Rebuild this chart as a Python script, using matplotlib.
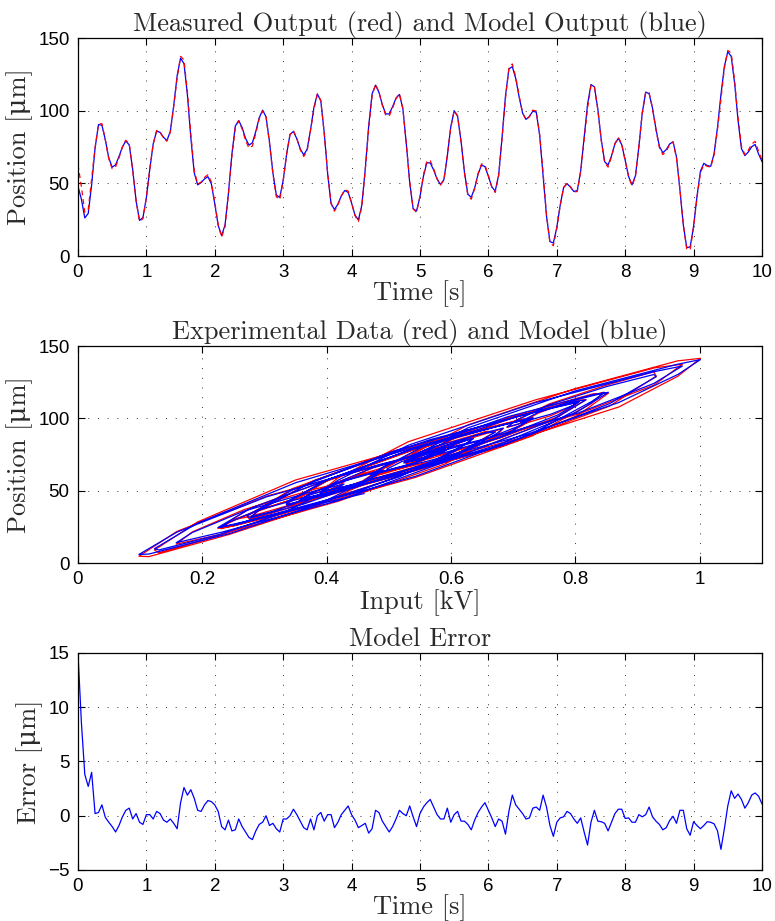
import matplotlib
matplotlib.use("Agg")
import matplotlib.pyplot as plt
import numpy as np

# time grid of the recording [s], 0.05 s steps
time_s = np.arange(201) * 0.05

# model output (blue) [um]
model_um = [
    48, 39.1, 26.2, 29.3, 49, 74.2, 90.4, 90.1, 80, 67.6,
    61.1, 62.8, 68.5, 75.1, 79.2, 76.4, 59.6, 37.9, 24.5, 26.5,
    40.1, 59.7, 77.3, 86, 85.1, 81.7, 79.6, 85.6, 103.6, 124.1,
    136.2, 132.3, 110.9, 81.4, 57.2, 49, 50.5, 53.1, 54.6, 49.7,
    35.9, 21.1, 14, 21.4, 43.3, 70, 89.4, 93.3, 88.4, 81,
    76.3, 77.9, 85.8, 95.2, 100.4, 95.7, 78.5, 57.2, 42, 40.3,
    52, 70, 83.7, 85.7, 80.7, 73.7, 69.6, 73.4, 86.8, 102.4,
    111.5, 106.8, 85.1, 56.9, 36.1, 32, 35.7, 41.3, 45.1, 43.8,
    36.5, 28.2, 24.8, 35, 59.8, 89.4, 111.6, 117.6, 112.7, 104.1,
    97.8, 97.8, 102.8, 108.7, 111.2, 101.3, 77.4, 50.5, 32.6, 31,
    40.8, 54.8, 64.1, 64.1, 59.2, 53, 49.2, 52.6, 68.9, 88.8,
    100, 96.1, 79.2, 57.8, 42.5, 40.4, 46.9, 56.5, 62.6, 61.5,
    54.9, 47.6, 44.7, 55.7, 81.5, 110.2, 128.8, 130.3, 122.1, 109.4,
    98.4, 94, 96.1, 99.7, 99, 83, 55.5, 27.5, 9.9, 9,
    19.6, 35, 47.2, 49.8, 47.4, 44.4, 45.1, 58.6, 81.6, 104.5,
    118, 116.4, 101.1, 80.1, 64.9, 62.6, 68.9, 77.2, 81, 76.6,
    65.9, 54.7, 49, 55.2, 75.2, 98.6, 112.8, 111.7, 101.6, 87.4,
    75.5, 71.1, 73.2, 77.1, 78.6, 68.2, 45.7, 21.3, 5.9, 6.2,
    20.4, 41.1, 58.4, 63.8, 62.3, 61.7, 70.4, 88.7, 111, 130.4,
    140.6, 137.4, 118.9, 93.4, 73.9, 69.1, 71.6, 75.2, 76.8, 70.2,
    65,
]

# model error [um]
error_um = [
    15, 8.6, 3.8, 2.7, 4.0, 0.2, 0.3, 1.0, -0.15, -0.6,
    -1.0, -1.5, -0.9, -0.1, 0.5, 0.7, -0.3, 0.2, -0.6, -0.8,
    0.1, 0.1, -0.3, 0.4, 0.2, -0.4, -0.6, -0.3, -0.7, -1.2,
    1.2, 2.6, 1.9, 2.4, 1.6, 0.5, 0.4, 1.0, 1.4, 1.3,
    1.0, 0.4, -1.0, -1.3, -0.4, -1.4, -1.3, -0.3, -1.0, -1.5,
    -2.0, -2.2, -1.4, -0.8, -0.6, 0.0, -0.9, -0.7, -1.2, -1.5,
    -0.3, -0.3, 0.0, 0.6, 0.1, -0.5, -1.1, -1.3, -0.3, -1.3,
    0.0, 0.3, -0.5, 0.1, 0.1, -1.1, -0.6, 0.1, 0.5, 0.9,
    0.1, -0.4, -1.1, -0.9, -0.7, -1.6, -1.2, 0.5, 0.3, -0.5,
    -1.0, -1.5, -1.0, -0.3, 0.5, 0.2, 0.0, 0.9, -0.1, -1.0,
    0.2, 0.8, 1.2, 1.5, 0.8, 0.1, -0.3, -0.3, 0.7, -0.6,
    0.1, 0.4, -0.5, -0.5, -0.8, -1.3, -0.4, 0.3, 0.8, 1.2,
    0.5, -0.2, -1.0, -0.3, -0.5, -1.7, 0.4, 1.9, 1.0, 0.6,
    0.2, -0.3, -0.2, 0.7, 0.8, 0.5, 1.9, 0.8, -0.9, -1.9,
    -0.6, -0.2, -0.1, 0.4, 0.2, -0.3, -0.7, -0.2, -1.5, -2.7,
    -0.6, 0.5, -0.5, -0.55, -0.7, -1.4, -0.6, 0.2, 0.6, 0.6,
    -0.25, -0.2, -0.6, -0.6, 0.1, -0.1, 0.1, 0.8, -0.1, -0.5,
    -0.8, -1.3, -1.1, -0.45, -0.05, -0.7, 0.5, 0.5, -1.2, -1.8,
    -0.55, -0.9, -1.2, -0.9, -0.55, -0.6, -0.75, -1.4, -3.1, -1.2,
    0.9, 2.3, 1.6, 2.0, 1.5, 0.7, 1.2, 1.9, 2.1, 1.8,
    1.1,
]

# drive voltage (estimated from the hysteresis panel) [kV]
input_kv = [
    0.460, 0.370, 0.250, 0.275, 0.447, 0.605, 0.671, 0.657, 0.570, 0.495,
    0.471, 0.488, 0.537, 0.576, 0.591, 0.562, 0.415, 0.278, 0.225, 0.251,
    0.376, 0.517, 0.606, 0.636, 0.627, 0.603, 0.594, 0.653, 0.804, 0.926,
    0.972, 0.927, 0.736, 0.531, 0.418, 0.391, 0.405, 0.422, 0.428, 0.380,
    0.267, 0.184, 0.158, 0.232, 0.420, 0.591, 0.673, 0.684, 0.640, 0.591,
    0.572, 0.589, 0.657, 0.712, 0.732, 0.684, 0.536, 0.399, 0.335, 0.337,
    0.444, 0.569, 0.630, 0.632, 0.587, 0.543, 0.527, 0.565, 0.679, 0.772,
    0.806, 0.757, 0.565, 0.380, 0.290, 0.278, 0.313, 0.350, 0.365, 0.351,
    0.289, 0.243, 0.230, 0.331, 0.542, 0.730, 0.826, 0.846, 0.800, 0.740,
    0.712, 0.717, 0.760, 0.795, 0.804, 0.706, 0.508, 0.345, 0.272, 0.276,
    0.363, 0.456, 0.492, 0.488, 0.445, 0.406, 0.391, 0.427, 0.567, 0.688,
    0.730, 0.689, 0.541, 0.403, 0.338, 0.336, 0.394, 0.458, 0.481, 0.469,
    0.413, 0.372, 0.362, 0.470, 0.684, 0.855, 0.930, 0.926, 0.851, 0.758,
    0.704, 0.690, 0.708, 0.730, 0.718, 0.565, 0.350, 0.192, 0.123, 0.130,
    0.227, 0.332, 0.388, 0.396, 0.375, 0.358, 0.370, 0.498, 0.675, 0.803,
    0.853, 0.828, 0.691, 0.553, 0.486, 0.483, 0.539, 0.589, 0.603, 0.560,
    0.474, 0.412, 0.391, 0.452, 0.621, 0.762, 0.817, 0.800, 0.708, 0.609,
    0.552, 0.537, 0.557, 0.580, 0.587, 0.486, 0.303, 0.159, 0.098, 0.114,
    0.244, 0.389, 0.471, 0.489, 0.477, 0.476, 0.562, 0.720, 0.870, 0.965,
    1.001, 0.964, 0.799, 0.627, 0.539, 0.524, 0.548, 0.569, 0.575, 0.521,
    0.497,
]

time_ticks = [0, 1, 2, 3, 4, 5, 6, 7, 8, 9, 10]
pos_ticks = [0, 50, 100, 150]
input_ticks = [0, 0.2, 0.4, 0.6, 0.8, 1.0]
input_labels = ["0", "0.2", "0.4", "0.6", "0.8", "1"]
err_ticks = [-5, 0, 5, 10, 15]
err_labels = ["\u22125", "0", "5", "10", "15"]

model = np.array(model_um)
measured = model + np.array(error_um)
u = np.array(input_kv)

serif = ["cmr10", "DejaVu Serif"]
plt.rcParams["font.family"] = ["Liberation Sans", "DejaVu Sans"]
plt.rcParams["axes.unicode_minus"] = True

fig = plt.figure(figsize=(7.75, 9.21), dpi=100)
ax1 = fig.add_axes([0.1006, 0.7220, 0.8826, 0.2367])
ax2 = fig.add_axes([0.1006, 0.3887, 0.8826, 0.2356])
ax3 = fig.add_axes([0.1006, 0.0554, 0.8826, 0.2356])

title_kw = dict(fontsize=19, family=serif, color="#2a2a2a", pad=5)
label_kw = dict(fontsize=19, family=serif, color="#2a2a2a")


def style(ax):
    ax.grid(True, color="#333333", linewidth=0.7, linestyle=(0, (1.0, 9.0)))
    ax.tick_params(direction="in", top=True, right=True, length=5,
                   width=0.8, labelsize=13.5, pad=6)
    for s in ax.spines.values():
        s.set_linewidth(0.9)


# top: measured vs model output
ax1.plot(time_s, model, color="blue", linewidth=0.9, solid_joinstyle="round")
ax1.plot(time_s, measured, color="red", linewidth=0.9, linestyle=(0, (4, 3)))
ax1.set_xlim(0, 10)
ax1.set_ylim(0, 150)
ax1.set_xticks(time_ticks)
ax1.set_yticks(pos_ticks)
ax1.set_title("Measured Output (red) and Model Output (blue)", **title_kw)
ax1.set_xlabel("Time [s]", labelpad=-1, **label_kw)
ax1.set_ylabel("Position [\u03bcm]", labelpad=4, **label_kw)
style(ax1)

# middle: hysteresis loops
ax2.plot(u, measured, color="red", linewidth=0.9)
ax2.plot(u, model, color="blue", linewidth=0.9)
ax2.set_xlim(0, 1.1)
ax2.set_ylim(0, 150)
ax2.set_xticks(input_ticks, input_labels)
ax2.set_yticks(pos_ticks)
ax2.set_title("Experimental Data (red) and Model (blue)", **title_kw)
ax2.set_xlabel("Input [kV]", labelpad=1, **label_kw)
ax2.set_ylabel("Position [\u03bcm]", labelpad=4, **label_kw)
style(ax2)

# bottom: model error
ax3.plot(time_s, error_um, color="blue", linewidth=0.9)
ax3.set_xlim(0, 10)
ax3.set_ylim(-5, 15)
ax3.set_xticks(time_ticks)
ax3.set_yticks(err_ticks, err_labels)
ax3.set_title("Model Error", **title_kw)
ax3.set_xlabel("Time [s]", labelpad=-1, **label_kw)
ax3.set_ylabel("Error [\u03bcm]", labelpad=4, **label_kw)
style(ax3)

fig.savefig("out.png", dpi=100)
